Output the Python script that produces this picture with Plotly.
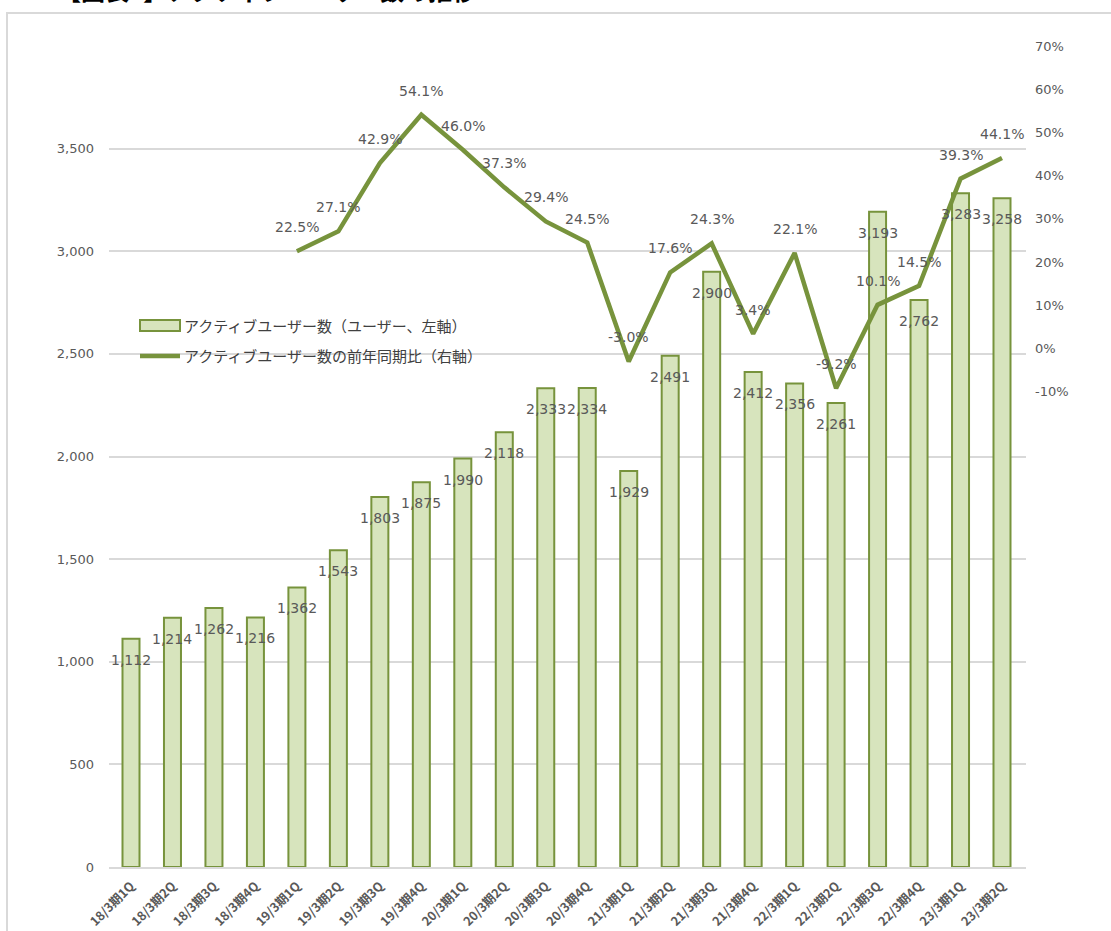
import plotly.graph_objects as go

categories = ["18/3期1Q", "18/3期2Q", "18/3期3Q", "18/3期4Q",
              "19/3期1Q", "19/3期2Q", "19/3期3Q", "19/3期4Q",
              "20/3期1Q", "20/3期2Q", "20/3期3Q", "20/3期4Q",
              "21/3期1Q", "21/3期2Q", "21/3期3Q", "21/3期4Q",
              "22/3期1Q", "22/3期2Q", "22/3期3Q", "22/3期4Q",
              "23/3期1Q", "23/3期2Q"]
active_users = [1112, 1214, 1262, 1216, 1362, 1543, 1803, 1875, 1990, 2118, 2333,
                2334, 1929, 2491, 2900, 2412, 2356, 2261, 3193, 2762, 3283, 3258]
yoy_growth = [None, None, None, None, 22.5, 27.1, 42.9, 54.1, 46.0, 37.3, 29.4,
              24.5, -3.0, 17.6, 24.3, 3.4, 22.1, -9.2, 10.1, 14.5, 39.3, 44.1]
left_ticks = [0, 500, 1000, 1500, 2000, 2500, 3000, 3500, 4000]
left_tick_text = ["0", "500", "1,000", "1,500", "2,000", "2,500", "3,000", "3,500", ""]
right_ticks = [-10, 0, 10, 20, 30, 40, 50, 60, 70]
bar_name = "アクティブユーザー数（ユーザー、左軸）"
line_name = "アクティブユーザー数の前年同期比（右軸）"
title_text = "【図表1】アクティブユーザー数の推移"

BAR_FILL = "#d7e4bd"
GREEN = "#77933c"
LABEL = "#595959"
GRID = "#d9d9d9"
NUM_FONT = "DejaVu Sans"
JP_FONT = "Noto Sans CJK JP"

W, H = 1111, 931
L, R, T, B = 109, 85, 46, 64
PW, PH = W - L - R, H - T - B


def px(x):
    return (x - L) / PW


def py(y):
    return (H - B - y) / PH


fig = go.Figure()
fig.add_trace(go.Bar(
    x=categories, y=active_users, name=bar_name,
    marker=dict(color=BAR_FILL, line=dict(color=GREEN, width=2)),
    showlegend=False, hoverinfo="x+y",
))
fig.add_trace(go.Scatter(
    x=categories, y=yoy_growth, name=line_name, yaxis="y2",
    mode="lines", line=dict(color=GREEN, width=4.5),
    showlegend=False,
))

annotations = []
for c, v in zip(categories, active_users):
    annotations.append(dict(
        x=c, y=v, xref="x", yref="y", text=f"{v:,}", showarrow=False,
        yanchor="middle", yshift=-21,
        font=dict(family=NUM_FONT, size=14, color=LABEL),
    ))
for c, v in zip(categories, yoy_growth):
    if v is None:
        continue
    annotations.append(dict(
        x=c, y=v, xref="x", yref="y2", text=f"{v:.1f}%", showarrow=False,
        yanchor="middle", yshift=24,
        font=dict(family=NUM_FONT, size=14, color=LABEL),
    ))

# custom legend text
annotations.append(dict(
    x=px(182), y=py(325), xref="paper", yref="paper", text=bar_name,
    showarrow=False, xanchor="left", yanchor="middle",
    font=dict(family=JP_FONT, size=15, color="#404040"),
))
annotations.append(dict(
    x=px(182), y=py(356), xref="paper", yref="paper", text=line_name,
    showarrow=False, xanchor="left", yanchor="middle",
    font=dict(family=JP_FONT, size=15, color="#404040"),
))
# title (cropped at top of image, as in the reference)
annotations.append(dict(
    x=px(55), y=py(-11), xref="paper", yref="paper", text="<b>" + title_text + "</b>",
    showarrow=False, xanchor="left", yanchor="middle",
    font=dict(family=JP_FONT, size=24, color="#000000"),
))

shapes = [
    # outer frame
    dict(type="rect", xref="paper", yref="paper", x0=px(7), x1=px(1200),
         y0=py(1000), y1=py(13), line=dict(color=GRID, width=2), layer="below"),
    # legend swatches
    dict(type="rect", xref="paper", yref="paper", x0=px(140), x1=px(180),
         y0=py(331), y1=py(320), fillcolor=BAR_FILL, line=dict(color=GREEN, width=2)),
    dict(type="line", xref="paper", yref="paper", x0=px(140), x1=px(180),
         y0=py(356), y1=py(356), line=dict(color=GREEN, width=4.5)),
]

fig.update_layout(
    width=W, height=H,
    margin=dict(l=L, r=R, t=T, b=B, autoexpand=False),
    paper_bgcolor="white", plot_bgcolor="white",
    bargap=0.59,
    showlegend=False,
    annotations=annotations,
    shapes=shapes,
    xaxis=dict(
        type="category", showline=True, linecolor=GRID, linewidth=1.5,
        ticks="", tickangle=-45, showgrid=False, automargin=False,
        ticklabelstandoff=5,
        tickfont=dict(family=JP_FONT, size=12.5, color=LABEL, weight="bold"),
    ),
    yaxis=dict(
        range=[0, 4000], tickvals=left_ticks, ticktext=left_tick_text,
        showgrid=True, gridcolor=GRID, gridwidth=1.5, zeroline=False,
        ticks="", ticklabelstandoff=14, automargin=False,
        tickfont=dict(family=NUM_FONT, size=13, color=LABEL),
    ),
    yaxis2=dict(
        overlaying="y", side="right", range=[-120, 70],
        tickvals=right_ticks, ticktext=[f"{t}%" for t in right_ticks],
        showgrid=False, zeroline=False, ticks="", ticklabelstandoff=8,
        automargin=False,
        tickfont=dict(family=NUM_FONT, size=13, color=LABEL),
    ),
)

fig.write_html(
    "out.html",
    config={"displayModeBar": False},
    post_script="document.body.style.margin='0';document.body.style.overflow='hidden';",
)
